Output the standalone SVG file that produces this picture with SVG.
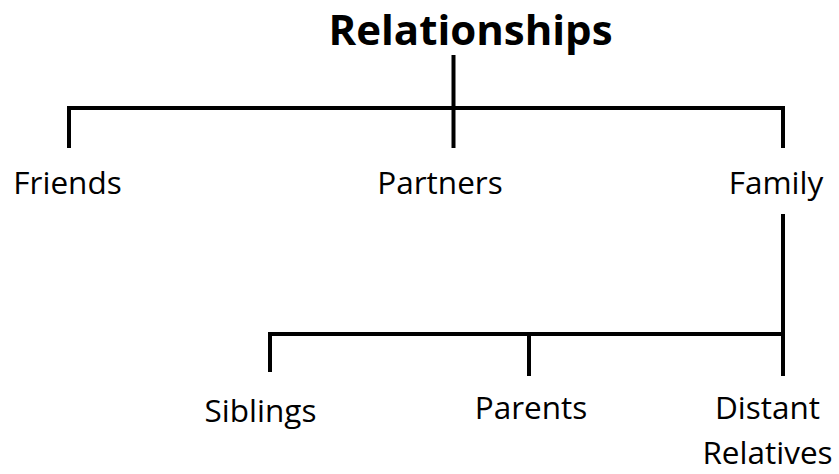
<svg xmlns="http://www.w3.org/2000/svg" width="839" height="474" viewBox="0 0 839 474">
  <style>
    .bg { fill: #ffffff; }
    .title { font-family: "Open Sans", "Noto Sans", "Liberation Sans", sans-serif; font-weight: bold; font-size: 42px; fill: #000; text-anchor: middle; }
    .label { font-family: "Open Sans", "Noto Sans", "Liberation Sans", sans-serif; font-size: 31.5px; fill: #000; text-anchor: middle; }
    .link { stroke: #000; stroke-width: 4; fill: none; stroke-linecap: square; }
  </style>
  <rect class="bg" x="0" y="0" width="839" height="474"/>

  <!-- tree connectors -->
  <g id="connectors">
    <!-- root to first level -->
    <path class="link" d="M453.5 57 V146"/>
    <path class="link" d="M69 108 H783"/>
    <path class="link" d="M69 108 V146"/>
    <path class="link" d="M783 108 V146"/>
    <!-- Family to second level -->
    <path class="link" d="M783 216 V374"/>
    <path class="link" d="M270 334 H783"/>
    <path class="link" d="M270 334 V370"/>
    <path class="link" d="M529 334 V374"/>
  </g>

  <g id="root">
    <text class="title" x="470.5" y="45">Relationships</text>
  </g>
  <g id="friends">
    <text class="label" x="67.5" y="194">Friends</text>
  </g>
  <g id="partners">
    <text class="label" x="440" y="194">Partners</text>
  </g>
  <g id="family">
    <text class="label" x="776" y="194">Family</text>
  </g>
  <g id="siblings">
    <text class="label" x="260.5" y="422">Siblings</text>
  </g>
  <g id="parents">
    <text class="label" x="531" y="419">Parents</text>
  </g>
  <g id="distant-relatives">
    <text class="label" x="767.5" y="419">Distant</text>
    <text class="label" x="767.5" y="464">Relatives</text>
  </g>
</svg>
